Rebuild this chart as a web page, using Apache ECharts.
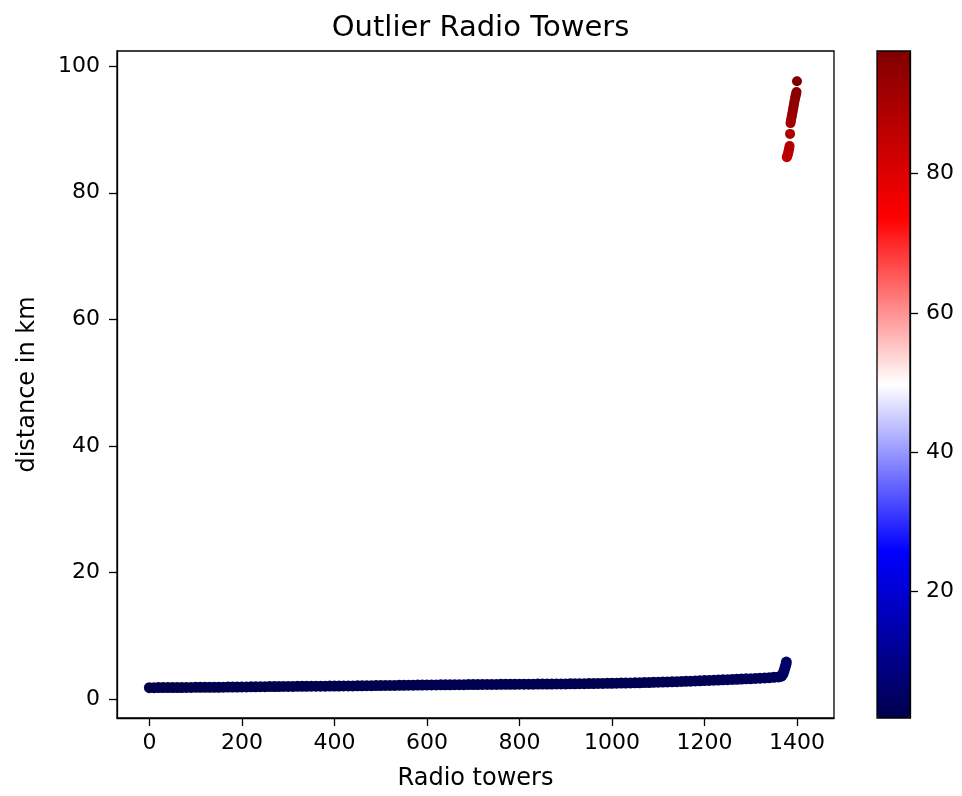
<!DOCTYPE html>
<html>
<head>
<meta charset="utf-8">
<script src="https://cdn.jsdelivr.net/npm/echarts@6/dist/echarts.min.js"></script>
<style>
html,body{margin:0;padding:0;background:#fff;}
#chart{width:962px;height:796px;}
</style>
</head>
<body>
<div id="chart"></div>
<script>
// ---- data ----
const chartTitle = "Outlier Radio Towers";
const xAxisName = "Radio towers";
const yAxisName = "distance in km";
const xTicks = [0, 200, 400, 600, 800, 1000, 1200, 1400];
const yTicks = [0, 20, 40, 60, 80, 100];
const colorbarTicks = [20, 40, 60, 80];
const xAxisRange = [-70, 1480];

// main band: tower index and distance (sampled along the dense band)
const bandIndex = [
  0,10,20,30,40,50,60,70,80,90,
  100,110,120,130,140,150,160,170,180,190,
  200,210,220,230,240,250,260,270,280,290,
  300,310,320,330,340,350,360,370,380,390,
  400,410,420,430,440,450,460,470,480,490,
  500,510,520,530,540,550,560,570,580,590,
  600,610,620,630,640,650,660,670,680,690,
  700,710,720,730,740,750,760,770,780,790,
  800,810,820,830,840,850,860,870,880,890,
  900,910,920,930,940,950,960,970,980,990,
  1000,1010,1020,1030,1040,1050,1060,1070,1080,1090,
  1100,1110,1120,1130,1140,1150,1160,1170,1180,1190,
  1200,1210,1220,1230,1240,1250,1260,1270,1280,1290,
  1300,1310,1320,1330,1340,1350,1360,
  1365,1368,1370,1372,1374,1376,1377
];
const bandDistance = [
  1.85,1.85,1.86,1.86,1.87,1.87,1.88,1.88,1.89,1.89,
  1.90,1.90,1.91,1.91,1.92,1.92,1.93,1.94,1.94,1.95,
  1.96,1.97,1.98,1.99,2.00,2.01,2.02,2.03,2.03,2.04,
  2.05,2.05,2.06,2.07,2.07,2.08,2.08,2.09,2.09,2.10,
  2.10,2.11,2.12,2.12,2.13,2.14,2.15,2.16,2.17,2.18,
  2.19,2.20,2.21,2.21,2.22,2.23,2.24,2.25,2.26,2.27,
  2.28,2.29,2.29,2.30,2.31,2.31,2.32,2.33,2.33,2.34,
  2.35,2.35,2.36,2.36,2.37,2.37,2.38,2.38,2.39,2.39,
  2.40,2.40,2.41,2.41,2.42,2.42,2.43,2.43,2.44,2.45,
  2.45,2.46,2.47,2.48,2.49,2.50,2.51,2.52,2.53,2.54,
  2.55,2.56,2.57,2.58,2.60,2.62,2.63,2.65,2.67,2.70,
  2.72,2.74,2.76,2.78,2.80,2.83,2.85,2.88,2.91,2.94,
  2.97,3.00,3.03,3.06,3.09,3.12,3.15,3.18,3.21,3.25,
  3.28,3.31,3.35,3.39,3.43,3.48,3.55,
  3.65,3.80,4.10,4.50,5.00,5.50,5.90
];

// outlier towers
const outlierIndex = [1378,1379,1380,1381,1382,1383,1384,1385,1386,1387,1388,1389,1390,1391,1392,1393,1394,1395,1396,1397,1398,1399,1400];
const outlierDistance = [85.6,85.8,86.0,86.3,86.6,87.0,87.4,89.3,91.0,91.4,91.8,92.2,92.6,93.0,93.4,93.8,94.2,94.6,95.0,95.3,95.6,95.9,97.6];

// seismic colormap stops
const seismicColors = ['#00004c', '#0000ff', '#ffffff', '#ff0000', '#800000'];

// ---- build options ----
const bandData = bandIndex.map((x, i) => [x, bandDistance[i]]);
const outlierData = outlierIndex.map((x, i) => [x, outlierDistance[i]]);
const allY = bandDistance.concat(outlierDistance);
const yLo = Math.min(...allY), yHi = Math.max(...allY);
const yPad = (yHi - yLo) * 0.05;

const FONT = 'DejaVu Sans';
const TICK_FS = 22;
const NAME_FS = 24;
const chart = echarts.init(document.getElementById('chart'), null, {renderer: 'canvas'});

const axisLineStyle = {show: true, onZero: false, lineStyle: {color: '#000', width: 1.3}};
const tickStyle = (vals) => ({show: true, length: 8, lineStyle: {color: '#000', width: 1.3}, customValues: vals});
const labelStyle = (vals, margin) => ({
  show: true, margin: margin, fontFamily: FONT, fontSize: TICK_FS, color: '#000',
  customValues: vals, formatter: (v) => String(v)
});

const option = {
  animation: false,
  backgroundColor: '#fff',
  textStyle: {fontFamily: FONT},
  title: {
    text: chartTitle,
    left: 475.5,
    textAlign: 'center',
    top: 9,
    textStyle: {fontFamily: FONT, fontSize: 29, fontWeight: 'normal', color: '#000'}
  },
  grid: [
    {left: 117, top: 51, width: 717, height: 667, show: true, borderColor: '#000', borderWidth: 1.3, backgroundColor: 'transparent'},
    {left: 877, top: 51, width: 33, height: 667, show: true, borderColor: '#000', borderWidth: 1.3, backgroundColor: 'transparent', z: 10}
  ],
  xAxis: [
    {
      type: 'value', gridIndex: 0, min: xAxisRange[0], max: xAxisRange[1],
      name: xAxisName, nameLocation: 'middle', nameGap: 49,
      nameTextStyle: {fontFamily: FONT, fontSize: NAME_FS, color: '#000'},
      axisLine: axisLineStyle,
      axisTick: tickStyle(xTicks),
      axisLabel: labelStyle(xTicks, 14),
      splitLine: {show: false}
    },
    {type: 'value', gridIndex: 1, min: 0, max: 1, show: false}
  ],
  yAxis: [
    {
      type: 'value', gridIndex: 0, min: yLo - yPad, max: yHi + yPad,
      name: yAxisName, nameLocation: 'middle', nameGap: 77,
      nameTextStyle: {fontFamily: FONT, fontSize: NAME_FS, color: '#000'},
      axisLine: axisLineStyle,
      axisTick: tickStyle(yTicks),
      axisLabel: labelStyle(yTicks, 17),
      splitLine: {show: false}
    },
    {
      type: 'value', gridIndex: 1, position: 'right', min: yLo, max: yHi, z: 10,
      axisLine: axisLineStyle,
      axisTick: tickStyle(colorbarTicks),
      axisLabel: labelStyle(colorbarTicks, 16),
      splitLine: {show: false}
    }
  ],
  visualMap: {
    type: 'continuous',
    min: yLo, max: yHi,
    dimension: 1,
    seriesIndex: [0, 1],
    calculable: false,
    hoverLink: false,
    orient: 'vertical',
    left: 877, top: 51,
    padding: 0,
    itemWidth: 33, itemHeight: 667,
    text: null,
    showLabel: false,
    inRange: {color: seismicColors}
  },
  series: [
    {
      type: 'scatter', xAxisIndex: 0, yAxisIndex: 0,
      data: bandData, symbol: 'circle', symbolSize: 11,
      itemStyle: {opacity: 1}, clip: false
    },
    {
      type: 'scatter', xAxisIndex: 0, yAxisIndex: 0,
      data: outlierData, symbol: 'circle', symbolSize: 10,
      itemStyle: {opacity: 1}, clip: false
    }
  ]
};
chart.setOption(option);
</script>
</body>
</html>
